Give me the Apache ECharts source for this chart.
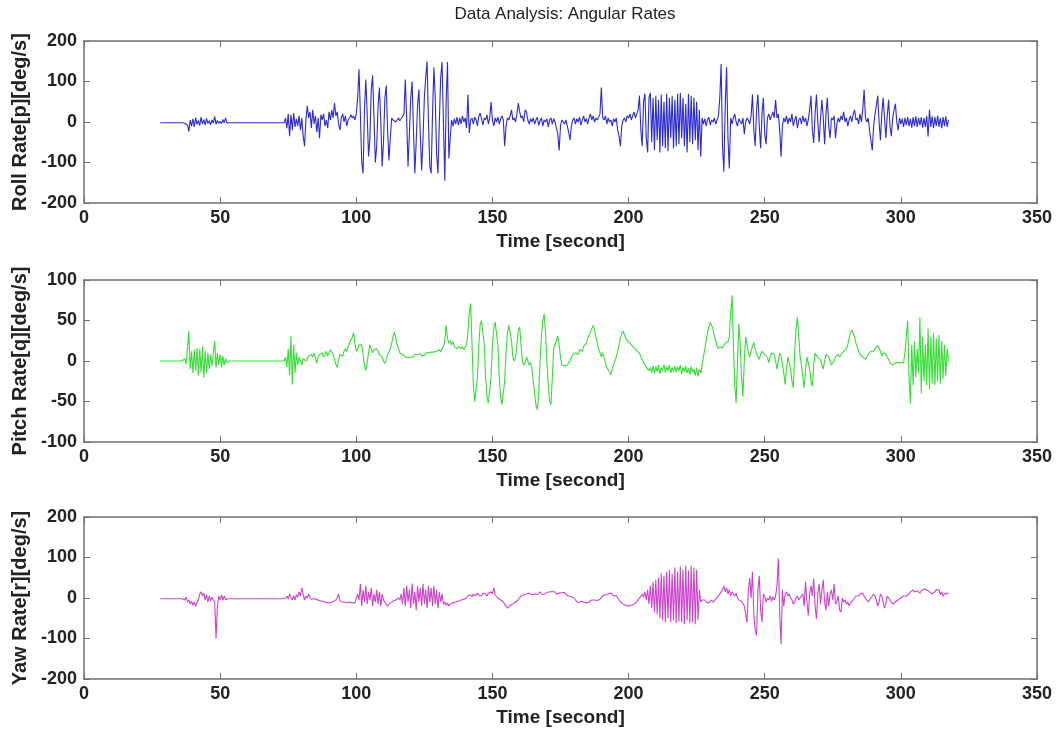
<!DOCTYPE html>
<html>
<head>
<meta charset="utf-8">
<script src="https://cdn.jsdelivr.net/npm/echarts@6/dist/echarts.min.js"></script>
<style>html,body{margin:0;padding:0;background:#fff}#chart{width:1064px;height:731px}</style>
</head>
<body>
<div id="chart"></div>
<script>
// ---------- text ----------
const chartTitle = 'Data Analysis: Angular Rates';
const xAxisLabel = 'Time [second]';
const yAxisLabels = ['Roll Rate[p][deg/s]', 'Pitch Rate[q][deg/s]', 'Yaw Rate[r][deg/s]'];

// ---------- axes ----------
const xRange = [0, 350];
const xTickStep = 50;
const rollRange = [-200, 200];
const rollTickStep = 100;
const pitchRange = [-100, 100];
const pitchTickStep = 50;
const yawRange = [-200, 200];
const yawTickStep = 100;

// ---------- sampling grid (seconds) ----------
const timeStart = 28;
const timeStep = 0.5;

// ---------- values (deg/s), one row = 10 s ----------
const rollRate = [
  -2,-2,-2,-2,-2,-2,-2,-2,-2,-2,-2,-2,-2,-2,-2,-2,-2,-2,-3,-1,
  -8,-23,5,-10,8,-12,10,-6,4,-9,12,-5,6,-8,9,-4,3,-7,5,-3,
  14,-6,4,-3,2,-4,6,-2,10,-3,0,-2,-1,-2,-2,-2,-2,-2,-2,-2,
  -2,-2,-2,-2,-2,-2,-2,-2,-2,-2,-2,-2,-2,-2,-2,-2,-2,-2,-2,-2,
  -2,-2,-2,-2,-2,-2,-2,-2,-2,-2,-2,-2,10,-15,20,-35,18,-20,22,-12,
  8,-10,15,-20,10,-35,-60,5,40,10,25,-15,30,-5,15,-25,10,-40,18,5,
  20,-10,5,-15,25,5,30,10,47,15,25,-5,-20,10,20,0,15,-10,5,10,
  18,10,15,5,20,60,130,20,-100,-127,30,105,20,-85,-40,80,115,10,-100,-60,
  40,85,0,-110,-50,60,90,-20,-95,-40,10,5,8,0,5,10,3,8,12,20,
  105,10,-110,-30,60,100,-20,-127,-50,40,80,-30,-120,-40,60,110,150,0,-110,-127,
  20,135,60,-80,-127,0,110,148,0,-145,50,148,-90,-40,5,-10,8,-5,12,-8,
  10,-5,15,0,10,-15,68,-27,5,10,-5,12,5,-10,15,22,8,-8,10,5,
  18,-5,10,50,5,-10,10,0,12,-5,8,15,5,-60,-10,10,5,15,30,5,
  10,0,20,47,25,10,15,0,30,25,5,-5,8,0,10,-5,5,12,-8,3,
  10,-10,5,0,8,-12,5,10,-5,8,0,-15,-30,-70,-10,5,0,-5,5,-10,
  -25,-45,-10,5,10,-5,8,0,12,-8,5,15,0,8,-5,10,20,5,15,0,
  10,5,12,20,85,10,5,15,-5,10,0,5,-10,8,0,10,-20,-35,-60,-10,
  5,10,0,15,10,20,5,15,25,10,20,30,65,-20,-60,50,70,-40,-75,60,
  72,-50,60,-70,65,-45,55,-75,68,-60,50,-65,70,-72,60,-40,65,-65,55,-60,
  70,-55,72,-40,60,-60,45,-75,70,-50,65,-55,60,-45,50,-70,30,-86,10,-5,
  8,-10,5,12,-8,5,0,10,-5,5,15,60,143,-60,-123,40,135,-40,-115,10,
  -5,10,20,0,-10,8,5,-5,10,-30,0,10,5,-5,15,68,-20,-60,30,68,
  -10,-65,20,60,-30,-55,10,20,5,15,25,10,55,10,20,-20,-86,-10,10,0,
  15,-5,10,0,20,-10,5,15,-15,5,10,-5,15,0,10,-10,5,30,65,-20,
  -52,20,68,0,-50,10,55,10,-55,20,60,-10,-40,10,5,15,-40,-5,10,0,
  15,5,25,0,10,-10,5,15,0,20,30,5,10,-5,20,0,30,80,10,0,
  10,-20,-45,-70,-10,20,40,65,0,-45,20,60,10,-40,15,55,-10,-35,10,30,
  45,0,-20,10,-5,8,-12,10,-8,12,-10,8,-14,12,-10,14,-12,10,-8,12,
  -14,10,-12,15,-36,30,-12,14,-15,12,-10,15,-12,10,-15,12,-10,14,-12,5
];

const pitchRate = [
  0,0,0,0,0,0,0,0,0,0,0,0,0,0,0,0,0,0,3,-4,
  15,37,-10,12,-15,14,-12,16,-18,15,-14,18,-21,12,-15,10,-10,8,-6,10,
  25,-8,10,-5,8,-8,6,-5,3,-2,0,0,0,0,0,0,0,0,0,0,
  0,0,0,0,0,0,0,0,0,0,0,0,0,0,0,0,0,0,0,0,
  0,0,0,0,0,0,0,0,0,0,0,0,5,-8,15,-18,31,-29,20,-15,
  10,-5,5,0,-5,3,5,0,2,6,4,8,5,10,8,-3,5,8,6,10,
  5,8,12,6,10,14,12,8,2,-4,-8,2,8,10,6,12,15,12,18,22,
  26,29,35,22,12,15,20,18,20,8,-5,-12,-2,10,20,15,10,14,12,15,
  12,8,10,5,0,-3,2,8,10,15,22,30,36,28,20,15,10,12,8,6,
  5,7,4,6,5,7,5,8,6,8,7,9,6,8,7,10,8,10,9,11,
  9,11,10,12,10,14,11,15,18,25,44,28,22,25,20,24,18,20,15,18,
  20,15,18,14,15,20,35,60,71,20,-30,-50,-52,-20,20,45,50,52,20,-20,
  -45,-52,-50,-20,20,40,48,50,20,-20,-45,-54,-56,-25,10,35,44,46,25,5,
  0,5,20,38,42,20,0,-5,-2,5,0,-5,-2,-10,-25,-40,-55,-60,-40,0,
  30,50,58,35,0,-30,-50,-54,-20,15,20,25,31,20,5,-5,-3,-6,-4,-5,
  -3,0,5,8,6,10,12,8,14,16,12,18,19,22,28,32,36,40,44,38,
  30,22,15,10,5,10,4,-2,-8,-10,-14,-17,-10,-5,0,5,12,20,28,34,
  37,32,28,25,27,22,20,18,19,15,12,10,10,5,2,-2,-5,-8,-10,-12,
  -8,-14,-6,-15,-7,-13,-5,-16,-8,-12,-4,-14,-7,-12,-5,-15,-8,-13,-6,-14,
  -7,-12,-5,-16,-8,-13,-6,-15,-9,-17,-7,-14,-10,-18,-8,-19,-10,-15,-5,5,
  15,25,35,42,48,50,40,30,25,18,15,18,20,16,19,22,20,24,30,60,
  81,20,-30,-52,0,46,20,-20,-44,0,30,20,10,5,12,18,23,15,8,5,
  2,8,12,10,8,10,4,-2,5,10,12,8,0,-10,0,10,6,5,-15,-29,
  -10,5,6,-10,-25,-33,10,40,54,30,5,-5,-20,-33,-10,5,6,-10,-25,-31,
  -5,10,8,4,3,2,-5,-10,0,8,10,5,0,-5,-6,0,5,6,8,5,
  8,10,12,10,15,20,28,35,38,40,30,22,18,12,8,6,5,3,2,5,
  8,10,12,10,12,15,17,19,19,12,6,10,8,9,5,2,-2,-4,-5,-3,
  -2,-3,-2,-4,-2,-3,-2,10,30,50,-20,-52,20,-30,25,-20,15,-15,54,-40,
  30,-25,20,-30,40,-35,30,-28,35,-30,28,-25,32,-28,25,-22,20,-18,15,0
];

const yawRate = [
  -2,-2,-2,-2,-2,-2,-2,-2,-2,-2,-2,-2,-2,-2,-2,-2,-2,-2,-5,2,
  -10,-5,-15,-8,-18,-10,-20,-12,-5,10,15,5,12,-5,8,-10,5,-8,2,-5,
  -10,-100,-20,5,-5,8,-6,5,-4,-2,-2,-2,-2,-2,-2,-2,-2,-2,-2,-2,
  -2,-2,-2,-2,-2,-2,-2,-2,-2,-2,-2,-2,-2,-2,-2,-2,-2,-2,-2,-2,
  -2,-2,-2,-2,-2,-2,-2,-2,-2,-2,-2,-2,0,5,-3,10,2,-5,5,-5,
  8,2,15,5,25,8,-5,5,0,10,2,-3,-5,-2,-6,-4,-8,-6,-10,-8,
  -12,-10,-14,-12,-15,-11,-13,-9,-10,-5,0,10,-5,-10,-12,-10,-13,-11,-12,-10,
  -13,-12,-10,-12,-8,10,-5,35,-20,20,-10,30,-15,15,-5,25,-20,10,-10,20,
  -15,15,-20,10,-5,-10,-15,-20,-18,-12,-15,-8,-10,-5,-8,0,-5,10,-15,25,
  -20,30,-10,20,-25,36,-15,15,-30,30,-10,25,-20,35,-15,20,-25,30,-10,25,
  -20,30,-15,20,-25,15,-10,10,-15,-10,-18,-12,-20,-15,-18,-12,-15,-10,-12,-8,
  -10,-5,-8,-3,-5,0,5,2,8,3,10,5,8,12,6,10,5,12,8,10,
  5,12,8,15,10,25,8,5,0,-3,-5,-2,-10,-15,-20,-25,-22,-18,-20,-15,
  -12,-10,-8,-5,0,5,3,8,5,10,8,12,10,8,12,10,14,9,12,15,
  10,13,9,12,14,10,15,12,16,13,15,10,14,12,9,13,11,14,8,10,
  5,8,3,5,0,-5,-8,-12,-10,-8,-6,-10,-8,-12,-15,-10,-8,-5,-6,-5,
  -4,-6,-5,-3,0,5,3,8,5,10,6,12,8,5,3,6,2,-5,-10,-8,
  -15,-12,-18,-15,-20,-16,-18,-14,-15,-12,-10,-5,0,5,10,2,15,-5,20,-15,
  30,-25,40,-35,45,-40,50,-50,60,-55,55,-60,65,-50,70,-60,60,-55,75,-62,
  65,-58,78,-60,70,-65,80,-55,68,-62,80,-60,75,-65,70,-55,20,-10,-5,-8,
  -5,-10,-6,-12,-8,-5,-10,-6,-3,0,5,10,15,20,30,15,25,10,20,5,
  15,10,5,12,0,-5,-3,-8,-5,-20,-40,-60,20,50,0,65,-40,-80,-93,20,
  55,-30,-60,10,5,-10,0,-5,5,-8,3,-5,5,30,98,-40,-114,20,-20,10,
  15,5,10,0,-5,-15,-10,0,5,-5,0,5,10,-20,40,-10,-43,10,30,5,
  48,-20,-52,10,35,-15,20,45,-10,-30,15,-20,10,20,-5,35,-15,-10,5,-30,
  -35,0,-10,-5,-15,-10,-20,-12,-8,-5,0,5,8,5,10,8,12,5,0,-5,
  -10,-5,-8,5,10,5,-5,-20,-10,10,5,-10,-25,-15,5,0,-5,-10,-15,-12,
  -10,-8,-5,-2,0,3,5,2,5,8,10,15,18,20,15,12,18,15,12,18,
  20,22,25,20,18,15,12,10,12,15,20,18,20,8,15,5,10,6,12,10
];

// ---------- styling ----------
const seriesColors = ['#2b2bd0', '#35dd35', '#cc44cc'];
const axisColor = '#6f6f6f';
const textColor = '#222222';
const fontFamily = '"Liberation Sans", Arial, sans-serif';

const panels = [
  { values: rollRate, range: rollRange, step: rollTickStep, top: 41 },
  { values: pitchRate, range: pitchRange, step: pitchTickStep, top: 280 },
  { values: yawRate, range: yawRange, step: yawTickStep, top: 517 }
];

const grid = [], xAxis = [], yAxis = [], series = [];
const tickStyle = { show: true, inside: true, length: 6, lineStyle: { color: axisColor, width: 1 } };
const lineStyle = { show: true, onZero: false, lineStyle: { color: axisColor, width: 1.5 } };
const labelStyle = { color: textColor, fontSize: 18, fontWeight: 'bold', fontFamily: fontFamily };

panels.forEach((p, i) => {
  grid.push({ left: 84, top: p.top, width: 953, height: 162, show: false });
  // bottom (labelled) and top (ticks only) x axes
  xAxis.push({
    gridIndex: i, type: 'value', position: 'bottom', min: xRange[0], max: xRange[1], interval: xTickStep,
    axisLine: lineStyle, axisTick: tickStyle, splitLine: { show: false },
    axisLabel: Object.assign({ margin: 6 }, labelStyle),
    name: xAxisLabel, nameLocation: 'middle', nameGap: 29,
    nameTextStyle: { color: textColor, fontSize: 19, fontWeight: 'bold', fontFamily: fontFamily }
  });
  xAxis.push({
    gridIndex: i, type: 'value', position: 'top', min: xRange[0], max: xRange[1], interval: xTickStep,
    axisLine: lineStyle, axisTick: tickStyle, splitLine: { show: false }, axisLabel: { show: false }
  });
  // left (labelled) and right (ticks only) y axes
  yAxis.push({
    gridIndex: i, type: 'value', position: 'left', min: p.range[0], max: p.range[1], interval: p.step,
    axisLine: lineStyle, axisTick: tickStyle, splitLine: { show: false },
    axisLabel: Object.assign({ margin: 7 }, labelStyle),
    name: yAxisLabels[i], nameLocation: 'middle', nameRotate: 90, nameGap: 50,
    nameTextStyle: { color: textColor, fontSize: 20, fontWeight: 'bold', fontFamily: fontFamily }
  });
  yAxis.push({
    gridIndex: i, type: 'value', position: 'right', min: p.range[0], max: p.range[1], interval: p.step,
    axisLine: lineStyle, axisTick: tickStyle, splitLine: { show: false }, axisLabel: { show: false }
  });
  series.push({
    type: 'line', name: yAxisLabels[i], xAxisIndex: 2 * i, yAxisIndex: 2 * i,
    data: p.values.map((v, k) => [timeStart + k * timeStep, v]),
    showSymbol: false, symbol: 'none',
    lineStyle: { color: seriesColors[i], width: 1.1 }, itemStyle: { color: seriesColors[i] },
    emphasis: { disabled: true }
  });
});

const chart = echarts.init(document.getElementById('chart'), null, { renderer: 'canvas' });
chart.setOption({
  animation: false,
  backgroundColor: '#ffffff',
  title: {
    text: chartTitle, left: 560, top: 1, textAlign: 'center',
    textStyle: { color: textColor, fontSize: 17, fontWeight: 'normal', fontFamily: fontFamily }
  },
  grid: grid, xAxis: xAxis, yAxis: yAxis, series: series
});
</script>
</body>
</html>
